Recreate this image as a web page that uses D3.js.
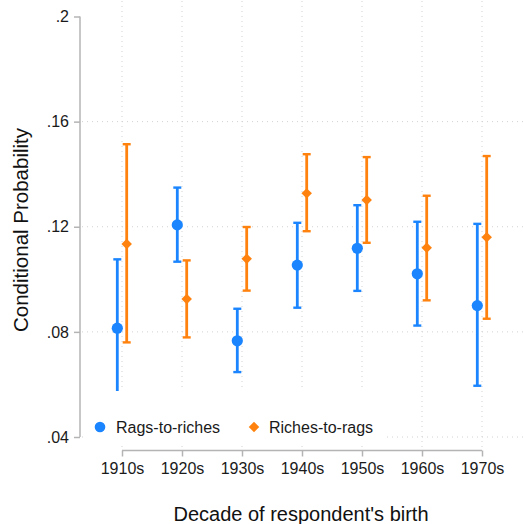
<!DOCTYPE html>
<html>
<head>
<meta charset="utf-8">
<script src="https://cdn.jsdelivr.net/npm/d3@7"></script>
<style>
  body { margin: 0; background: #fff; }
  svg { font-family: "Liberation Sans", Arial, sans-serif; }
</style>
</head>
<body>
<div class="chart"></div>
<script>
const decades = ["1910s", "1920s", "1930s", "1940s", "1950s", "1960s", "1970s"];
const yTicks = [0.04, 0.08, 0.12, 0.16, 0.2];

// Rags-to-riches: estimate, lower CI, upper CI
const ragsEst = [0.0814, 0.1207, 0.0766, 0.1054, 0.1118, 0.1021, 0.0900];
const ragsLo  = [0.0553, 0.1067, 0.0647, 0.0892, 0.0956, 0.0824, 0.0595];
const ragsHi  = [0.1076, 0.1349, 0.0888, 0.1215, 0.1282, 0.1219, 0.1211];

// Riches-to-rags
const richEst = [0.1134, 0.0925, 0.1078, 0.1327, 0.1302, 0.1120, 0.1160];
const richLo  = [0.0760, 0.0779, 0.0957, 0.1183, 0.1139, 0.0920, 0.0850];
const richHi  = [0.1514, 0.1072, 0.1199, 0.1476, 0.1465, 0.1318, 0.1469];

const blue = "#1a85ff", orange = "#ff820e", axisCol = "#b4b4b4", gridCol = "#d2d2d2";

let width = 523, height = 524;
let svg = d3.select(".chart").append("svg")
    .attr("width", width)
    .attr("height", height);

const xScale = d3.scalePoint()
    .domain(decades)
    .range([122, 482]);

const yScale = d3.scaleLinear()
    .domain([0.04, 0.2])
    .range([437, 16.5]);

let plotLeft = 82, plotRight = 523, plotTop = 1, plotBottom = 448;

// grid lines
svg.append("g").selectAll("line")
    .data(yTicks.filter(d => d < 0.2))
    .enter().append("line")
    .attr("x1", plotLeft).attr("x2", plotRight)
    .attr("y1", d => yScale(d)).attr("y2", d => yScale(d))
    .attr("stroke", gridCol).attr("stroke-width", 1)
    .attr("stroke-dasharray", "1,4");

svg.append("g").selectAll("line")
    .data(decades)
    .enter().append("line")
    .attr("x1", d => xScale(d)).attr("x2", d => xScale(d))
    .attr("y1", plotTop).attr("y2", plotBottom)
    .attr("stroke", gridCol).attr("stroke-width", 1)
    .attr("stroke-dasharray", "1,4");

// axes
let yAxis = d3.axisLeft(yScale)
    .tickValues(yTicks)
    .tickSize(6)
    .tickPadding(5)
    .tickFormat(d => d3.format(".2f")(d).replace(/^0/, "").replace(/0$/, ""));

let xAxis = d3.axisBottom(xScale)
    .tickSize(6)
    .tickPadding(6);

let gy = svg.append("g")
    .attr("transform", "translate(80,0)")
    .call(yAxis);
let gx = svg.append("g")
    .attr("transform", "translate(0,450.5)")
    .call(xAxis);

[gx, gy].forEach(g => {
  g.attr("font-size", null).attr("font-family", null);
  g.select(".domain").attr("stroke", axisCol).attr("stroke-width", 1.5);
  g.selectAll(".tick line").attr("stroke", axisCol).attr("stroke-width", 1.5);
  g.selectAll(".tick text").attr("fill", "#1a1a1a").style("font-size", "16px");
});
gy.select(".domain").attr("d", `M0,${yScale(0.2)}V${yScale(0.04)}`);
gx.select(".domain").attr("d", `M${xScale("1910s")},0H${xScale("1970s")}`);

// series
const series = [
  {name: "Rags-to-riches", est: ragsEst, lo: ragsLo, hi: ragsHi, color: blue, dx: -4.7, shape: "circle"},
  {name: "Riches-to-rags", est: richEst, lo: richLo, hi: richHi, color: orange, dx: 4.7, shape: "diamond"}
];

series.forEach(s => {
  let g = svg.append("g");
  decades.forEach((dec, i) => {
    let x = xScale(dec) + s.dx;
    g.append("line")
      .attr("x1", x).attr("x2", x)
      .attr("y1", yScale(s.lo[i])).attr("y2", yScale(s.hi[i]))
      .attr("stroke", s.color).attr("stroke-width", 2.8);
    [s.lo[i], s.hi[i]].forEach(v => {
      g.append("line")
        .attr("x1", x - 4).attr("x2", x + 4)
        .attr("y1", yScale(v)).attr("y2", yScale(v))
        .attr("stroke", s.color).attr("stroke-width", 2.4);
    });
    if (s.shape === "circle") {
      g.append("circle").attr("cx", x).attr("cy", yScale(s.est[i]))
        .attr("r", 5.6).attr("fill", s.color);
    } else {
      g.append("path")
        .attr("d", d3.symbol(d3.symbolDiamond2, 70)())
        .attr("transform", `translate(${x},${yScale(s.est[i])})`)
        .attr("fill", s.color);
    }
  });
});

// legend
let legend = svg.append("g");
legend.append("rect")
    .attr("x", 87).attr("y", 391).attr("width", 300).attr("height", 51)
    .attr("fill", "#fff");
legend.append("circle").attr("cx", 100).attr("cy", 427).attr("r", 5.3).attr("fill", blue);
legend.append("text").attr("x", 116).attr("y", 432.5).style("font-size", "16px")
    .attr("fill", "#1a1a1a").text("Rags-to-riches");
legend.append("path")
    .attr("d", d3.symbol(d3.symbolDiamond2, 70)())
    .attr("transform", "translate(254,427)")
    .attr("fill", orange);
legend.append("text").attr("x", 269).attr("y", 432.5).style("font-size", "16px")
    .attr("fill", "#1a1a1a").text("Riches-to-rags");

// axis titles
svg.append("text")
    .attr("x", 301).attr("y", 521)
    .attr("text-anchor", "middle")
    .style("font-size", "20px")
    .attr("fill", "#111")
    .text("Decade of respondent's birth");

svg.append("text")
    .attr("transform", "translate(28,230) rotate(-90)")
    .attr("text-anchor", "middle")
    .style("font-size", "20.5px")
    .attr("fill", "#111")
    .text("Conditional Probability");
</script>
</body>
</html>
